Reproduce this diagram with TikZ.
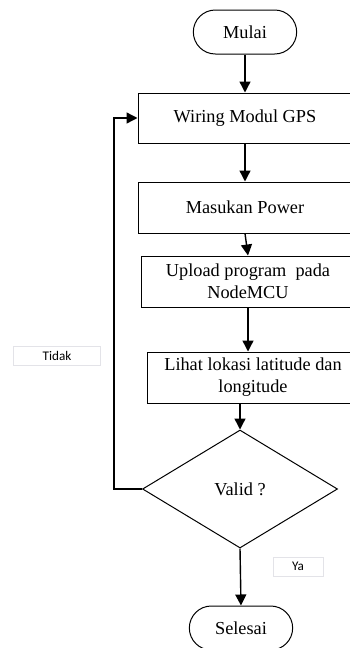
\documentclass[tikz,border=0pt]{standalone}
\usepackage{fontspec}
\setmainfont{Liberation Serif}
\newfontfamily\labelfont{Carlito}
\usetikzlibrary{shapes.misc}
\usetikzlibrary{shapes.geometric}
\usetikzlibrary {arrows.meta}

\tikzset{
  proses/.style={rectangle,draw,line width=1pt,minimum width=214pt,minimum height=51pt,align=center,font=\fontsize{18.3}{22}\selectfont},
  terminal/.style={rounded rectangle,draw,line width=1pt,minimum width=110pt,minimum height=44pt,font=\fontsize{18.3}{22}\selectfont},
  cabang/.style={diamond,draw,line width=1pt,minimum width=195pt,minimum height=118pt,aspect=1.65,inner sep=0pt,font=\fontsize{18.3}{22}\selectfont},
  ket/.style={rectangle,draw=blue!8!gray!20,line width=0.6pt,minimum height=19pt,inner sep=0pt,font=\labelfont\fontsize{13.2}{15}\selectfont},
  panah/.style={-{Triangle[length=11pt,width=11pt]},line width=1.4pt}
}

\begin{document}
\begin{tikzpicture}[x=1pt,y=-1pt]
\useasboundingbox (0,0) rectangle (350,648);
\clip (0,0) rectangle (350,648);

\node[terminal] (mulai) at (245,32){Mulai};

\node[proses,minimum height=50pt] (wiring) at (245,118){Wiring Modul GPS};

\node[proses] (power) at (245,207.5){Masukan Power};

\node[proses] (upload) at (248,281.5){Upload program~ pada\\NodeMCU};

\node[proses,minimum width=212pt] (lihat) at (253,377.5){Lihat lokasi latitude dan\\longitude};

\node[cabang] (valid) at (240,489){Valid ?};

\node[terminal] (selesai) at (241,628){Selesai};

\node[ket,minimum width=87pt] (tidak) at (57,355.5){Tidak};
\node[ket,minimum width=50pt] (ya) at (298,566.5){Ya};

\draw[panah] (mulai.south) -- (wiring.north);
\draw[panah] (wiring.south) -- (power.north);
\draw[panah] (power.south) -- (upload.north);
\draw[panah] (upload.south) -- (upload.south |- lihat.north);
\draw[panah] (lihat.south -| valid.north) -- (valid.north);
\draw[panah] (valid.south) -- (selesai.north);
\draw[panah] (valid.west) -- ++(-28,0) |- (wiring.west);

\end{tikzpicture}
\end{document}
